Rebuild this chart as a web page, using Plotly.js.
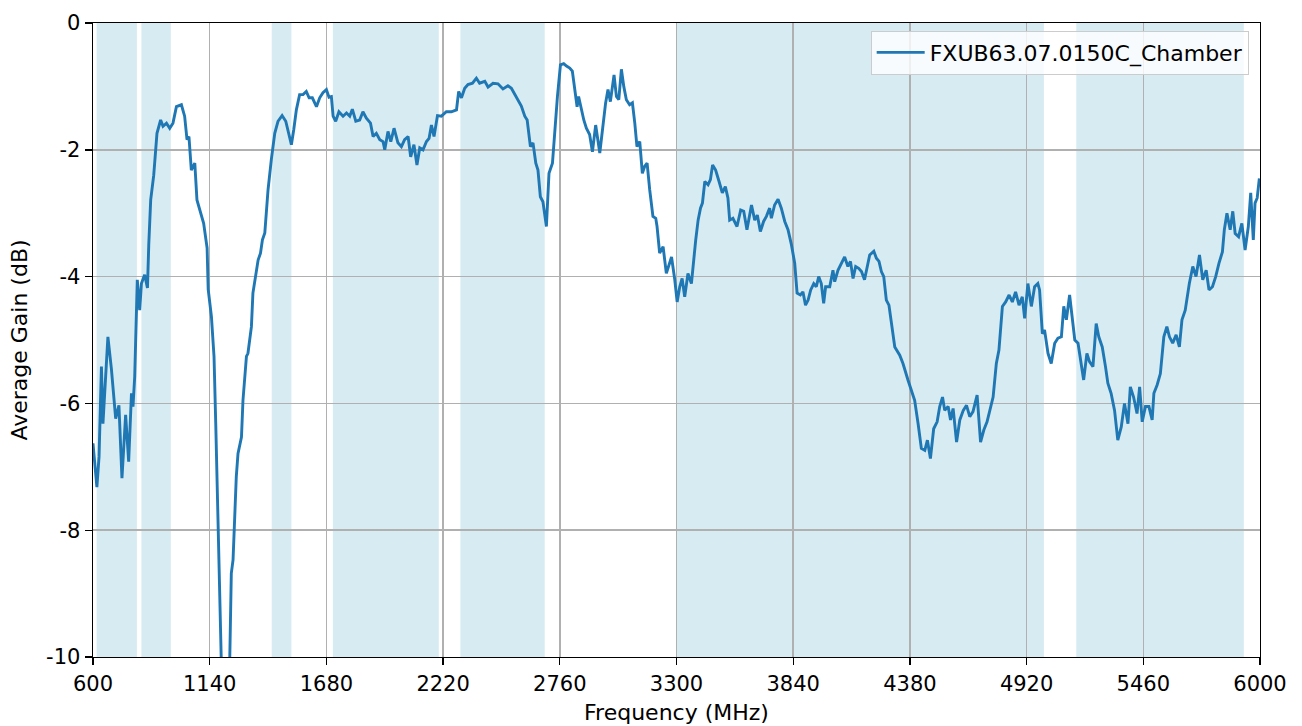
<!DOCTYPE html>
<html>
<head>
<meta charset="utf-8">
<script src="https://cdn.plot.ly/plotly-3.0.1.min.js"></script>
<style>html,body{margin:0;padding:0;background:#fff;}#chart{width:1302px;height:726px;}</style>
</head>
<body>
<div id="chart"></div>
<script>
const seriesName = "FXUB63.07.0150C_Chamber";
const freqMHz = [600,618,628,639,646,669,685,705,720,734,751,765,778,785,793,805,816,824,839,852,858,867,881,896,913,924,940,955,970,986,1009,1024,1035,1044,1055,1071,1081,1097,1112,1128,1133,1148,1160,1168,1178,1190,1200,1215,1228,1233,1240,1248,1256,1263,1271,1287,1294,1310,1317,1333,1340,1356,1364,1375,1384,1395,1410,1425,1441,1456,1475,1492,1506,1518,1529,1541,1556,1572,1587,1600,1615,1634,1649,1664,1680,1692,1703,1711,1723,1738,1757,1773,1788,1800,1816,1834,1849,1865,1884,1896,1911,1927,1942,1950,1965,1978,1993,2011,2027,2042,2058,2070,2085,2099,2112,2127,2143,2155,2166,2178,2194,2212,2235,2258,2282,2292,2305,2320,2335,2356,2374,2389,2413,2428,2451,2474,2497,2520,2536,2559,2582,2598,2609,2624,2636,2649,2659,2670,2682,2698,2710,2726,2736,2749,2763,2778,2791,2806,2818,2829,2840,2847,2860,2871,2883,2898,2911,2926,2945,2957,2972,2983,2994,3011,3022,3033,3045,3056,3068,3083,3096,3107,3117,3130,3142,3153,3164,3176,3191,3204,3210,3222,3238,3253,3277,3292,3303,3315,3326,3338,3353,3369,3376,3389,3400,3411,3420,3431,3446,3457,3467,3481,3497,3512,3526,3538,3546,3561,3580,3597,3611,3626,3647,3662,3674,3688,3703,3716,3731,3739,3754,3770,3785,3801,3816,3832,3847,3858,3873,3885,3897,3909,3921,3935,3947,3958,3970,3981,3990,4009,4024,4032,4047,4063,4078,4093,4105,4117,4129,4143,4156,4170,4182,4194,4213,4225,4237,4248,4259,4271,4283,4294,4310,4333,4348,4371,4387,4402,4418,4433,4449,4461,4475,4490,4506,4518,4531,4541,4557,4568,4580,4596,4611,4627,4642,4657,4672,4691,4707,4722,4737,4753,4765,4780,4792,4808,4823,4839,4854,4869,4885,4900,4911,4926,4942,4957,4972,4980,4993,5003,5019,5034,5050,5065,5081,5092,5104,5119,5132,5143,5158,5173,5184,5199,5211,5227,5242,5254,5270,5285,5296,5311,5327,5342,5358,5373,5389,5400,5415,5431,5443,5455,5470,5486,5501,5509,5524,5539,5555,5569,5581,5596,5612,5627,5639,5654,5673,5689,5704,5720,5735,5751,5764,5780,5795,5810,5826,5835,5847,5862,5874,5885,5901,5916,5931,5946,5957,5969,5977,5987,5997];
const gainDb = [-6.63,-7.32,-6.84,-5.42,-6.32,-4.95,-5.45,-6.24,-6.03,-7.18,-6.18,-6.92,-5.84,-6.05,-5.58,-4.05,-4.53,-4.11,-3.97,-4.18,-3.5,-2.79,-2.40,-1.74,-1.53,-1.63,-1.58,-1.66,-1.58,-1.32,-1.29,-1.47,-1.84,-1.79,-2.32,-2.21,-2.79,-3.00,-3.16,-3.55,-4.2,-4.63,-5.26,-6.32,-7.89,-10.0,-11.0,-11.5,-10.8,-10.0,-8.68,-8.47,-7.74,-7.16,-6.79,-6.53,-5.95,-5.26,-5.21,-4.79,-4.26,-3.95,-3.74,-3.63,-3.42,-3.31,-2.63,-2.16,-1.74,-1.55,-1.46,-1.55,-1.74,-1.92,-1.68,-1.37,-1.13,-1.13,-1.08,-1.18,-1.18,-1.32,-1.18,-1.10,-1.05,-1.17,-1.16,-1.47,-1.55,-1.40,-1.47,-1.42,-1.47,-1.36,-1.55,-1.53,-1.40,-1.50,-1.58,-1.79,-1.74,-1.84,-1.87,-2.00,-1.71,-1.87,-1.66,-1.89,-1.95,-1.84,-1.79,-2.11,-1.92,-2.24,-1.97,-2.00,-1.87,-1.82,-1.61,-1.79,-1.46,-1.47,-1.40,-1.40,-1.37,-1.08,-1.18,-1.03,-0.97,-0.95,-0.87,-0.95,-0.92,-1.01,-0.95,-0.96,-1.04,-0.99,-1.03,-1.16,-1.31,-1.47,-1.53,-1.95,-1.89,-2.21,-2.32,-2.74,-2.82,-3.21,-2.37,-2.21,-1.68,-1.16,-0.66,-0.64,-0.68,-0.71,-0.76,-1.05,-1.32,-1.16,-1.37,-1.53,-1.66,-1.76,-2.03,-1.61,-2.05,-1.68,-1.26,-1.05,-1.24,-0.82,-1.16,-1.21,-0.73,-1.00,-1.21,-1.29,-1.26,-1.58,-1.95,-1.87,-2.37,-2.26,-2.21,-2.63,-3.05,-3.08,-3.21,-3.63,-3.53,-3.95,-3.69,-4.05,-4.40,-4.16,-4.03,-4.32,-3.95,-4.11,-3.84,-3.42,-3.11,-2.92,-2.84,-2.50,-2.55,-2.47,-2.24,-2.32,-2.50,-2.68,-2.58,-2.76,-3.11,-3.08,-3.21,-2.95,-2.97,-3.26,-2.87,-3.11,-3.03,-3.29,-3.13,-3.05,-2.92,-3.08,-2.87,-2.78,-2.92,-3.13,-3.26,-3.50,-3.79,-4.26,-4.29,-4.24,-4.45,-4.37,-4.21,-4.11,-4.16,-4.00,-4.11,-4.42,-4.16,-4.16,-3.90,-4.08,-3.90,-3.79,-3.69,-3.84,-3.76,-4.03,-3.84,-3.87,-3.92,-4.05,-3.87,-3.66,-3.60,-3.71,-3.76,-3.92,-4.00,-4.37,-4.45,-4.74,-5.11,-5.24,-5.37,-5.63,-5.79,-5.95,-6.32,-6.71,-6.74,-6.58,-6.87,-6.40,-6.29,-6.05,-5.90,-6.11,-6.05,-6.26,-6.08,-6.61,-6.26,-6.11,-6.03,-6.21,-6.13,-5.87,-6.61,-6.42,-6.29,-6.05,-5.90,-5.37,-5.16,-4.47,-4.40,-4.29,-4.40,-4.24,-4.45,-4.32,-4.66,-4.11,-4.47,-4.16,-4.11,-4.21,-4.90,-4.84,-5.21,-5.37,-5.05,-4.97,-4.95,-4.47,-4.68,-4.29,-4.68,-5.00,-5.05,-5.37,-5.63,-5.21,-5.34,-5.42,-4.74,-4.95,-5.11,-5.42,-5.68,-5.84,-6.11,-6.58,-6.37,-6.00,-6.32,-5.74,-5.90,-6.16,-5.74,-6.29,-6.05,-6.05,-6.26,-5.84,-5.71,-5.53,-4.95,-4.79,-4.95,-5.05,-4.92,-5.11,-4.68,-4.53,-4.11,-3.84,-4.00,-3.66,-4.05,-3.90,-4.21,-4.16,-4.00,-3.79,-3.61,-3.26,-3.00,-3.26,-2.97,-3.32,-3.37,-3.16,-3.58,-3.21,-2.68,-3.42,-2.84,-2.76,-2.45];
const bandStart = [617, 824, 1427, 1710, 2300, 3300, 5150];
const bandEnd   = [803, 960, 1518, 2200, 2690, 5000, 5925];
const xTickVals = [600,1140,1680,2220,2760,3300,3840,4380,4920,5460,6000];
const yTickVals = [0,-2,-4,-6,-8,-10];
const yTickText = ["0","-2","-4","-6","-8","-10"];

const shapes = bandStart.map((s, i) => ({
  type: 'rect', xref: 'x', yref: 'paper', x0: s, x1: bandEnd[i], y0: 0, y1: 1,
  fillcolor: '#d6ebf2', line: {width: 0}, layer: 'below'
}));

const tickFont = {family: 'DejaVu Sans', size: 21, color: '#000'};
const titleFont = {family: 'DejaVu Sans', size: 22, color: '#000'};
const layout = {
  width: 1302, height: 726,
  margin: {l: 93, r: 42, t: 23, b: 69},
  paper_bgcolor: '#fff', plot_bgcolor: '#fff',
  font: tickFont,
  showlegend: true,
  legend: {x: 0.9903, xanchor: 'right', y: 0.988, yanchor: 'top', itemwidth: 48,
    bgcolor: 'rgba(255,255,255,0.8)', bordercolor: '#cccccc', borderwidth: 1,
    font: {family: 'DejaVu Sans', size: 22, color: '#000'}},
  xaxis: {range: [600, 6000], tickvals: xTickVals, ticks: 'outside', ticklen: 7, tickwidth: 1.4, tickcolor: '#000',
    showline: true, mirror: true, linecolor: '#000', linewidth: 1.4,
    showgrid: true, gridcolor: '#b0b0b0', gridwidth: 1.5, zeroline: false,
    tickfont: tickFont, title: {text: 'Frequency (MHz)', font: titleFont, standoff: 10}},
  yaxis: {range: [-10, 0], tickvals: yTickVals, ticktext: yTickText, ticks: 'outside', ticklen: 7, tickwidth: 1.4, tickcolor: '#000',
    showline: true, mirror: true, linecolor: '#000', linewidth: 1.4,
    showgrid: true, gridcolor: '#b0b0b0', gridwidth: 1.5, zeroline: false,
    tickfont: tickFont, title: {text: 'Average Gain (dB)', font: titleFont, standoff: 12}},
  shapes: shapes
};
const trace = {x: freqMHz, y: gainDb, type: 'scatter', mode: 'lines', name: seriesName,
  line: {color: '#1f77b4', width: 2.9}};
Plotly.newPlot('chart', [trace], layout, {displayModeBar: false, staticPlot: true});
</script>
</body>
</html>
